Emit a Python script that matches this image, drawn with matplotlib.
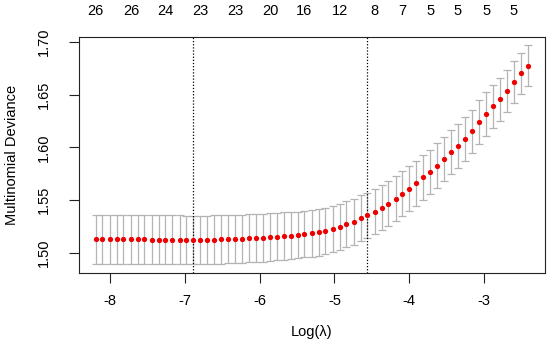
import numpy as np
import matplotlib
matplotlib.use('Agg')
import matplotlib.pyplot as plt

plt.rcParams['font.family'] = ['Liberation Sans', 'DejaVu Sans']

# log(lambda) grid of the cv fit
log_lambda = [-8.19, -8.10, -8.00, -7.91, -7.82, -7.72, -7.63, -7.54, -7.44, -7.35,
              -7.26, -7.17, -7.07, -6.98, -6.89, -6.79, -6.70, -6.61, -6.51, -6.42,
              -6.33, -6.23, -6.14, -6.05, -5.95, -5.86, -5.77, -5.68, -5.58, -5.49,
              -5.40, -5.30, -5.21, -5.12, -5.02, -4.93, -4.84, -4.74, -4.65, -4.56,
              -4.46, -4.37, -4.28, -4.18, -4.09, -4.00, -3.91, -3.81, -3.72, -3.63,
              -3.53, -3.44, -3.35, -3.25, -3.16, -3.07, -2.97, -2.88, -2.79, -2.69,
              -2.60, -2.51, -2.41]

# mean cv deviance
cvm = [1.5131, 1.5131, 1.5130, 1.5130, 1.5129, 1.5129, 1.5128, 1.5128, 1.5127, 1.5126,
       1.5126, 1.5125, 1.5125, 1.5124, 1.5123, 1.5124, 1.5125, 1.5126, 1.5128, 1.5130,
       1.5133, 1.5136, 1.5139, 1.5142, 1.5145, 1.5151, 1.5155, 1.5161, 1.5164, 1.5170,
       1.5180, 1.5186, 1.5195, 1.5208, 1.5224, 1.5243, 1.5271, 1.5297, 1.5329, 1.5357,
       1.5391, 1.5429, 1.5467, 1.5514, 1.5562, 1.5609, 1.5660, 1.5717, 1.5767, 1.5827,
       1.5893, 1.5954, 1.6013, 1.6077, 1.6152, 1.6241, 1.6316, 1.6389, 1.6455, 1.6534,
       1.6619, 1.6702, 1.6774]

# standard error
cvsd = [0.0231, 0.0231, 0.0231, 0.0231, 0.0231, 0.0231, 0.0231, 0.0231, 0.0231, 0.0231,
        0.0231, 0.0231, 0.0231, 0.0231, 0.0231, 0.0231, 0.0230, 0.0230, 0.0229, 0.0229,
        0.0228, 0.0228, 0.0227, 0.0227, 0.0226, 0.0226, 0.0225, 0.0224, 0.0223, 0.0222,
        0.0221, 0.0221, 0.0220, 0.0219, 0.0219, 0.0218, 0.0218, 0.0217, 0.0217, 0.0216,
        0.0215, 0.0215, 0.0214, 0.0214, 0.0213, 0.0213, 0.0212, 0.0212, 0.0211, 0.0211,
        0.0210, 0.0210, 0.0210, 0.0208, 0.0207, 0.0206, 0.0205, 0.0203, 0.0202, 0.0200,
        0.0199, 0.0197, 0.0196]

# number of nonzero coefs shown on top
nz_idx = [0, 5, 10, 15, 20, 25, 30, 35, 40, 44, 48, 52, 56, 60]
nz_labels = ['26', '26', '24', '23', '23', '20', '16', '12', '8', '7', '5', '5', '5', '5']

idx_min = 14
idx_1se = 39

x = np.array(log_lambda)
y = np.array(cvm)
se = np.array(cvsd)

fig = plt.figure(figsize=(5.5, 3.43), dpi=100)
ax = fig.add_axes([79/550, 1-272.7/343, (545-79)/550, (272.7-37)/343])

ax.errorbar(x, y, yerr=se, fmt='none', ecolor='#b4b4b4',
            elinewidth=0.9, capsize=3.2, capthick=0.9)
ax.plot(x, y, 'o', color='#ee0000', ms=3.8, mec='none', zorder=3)

ax.axvline(x[idx_min], color='black', ls=(0, (1, 1.5)), lw=0.9)
ax.axvline(x[idx_1se], color='black', ls=(0, (1, 1.5)), lw=0.9)

ax.set_xlim(-8.414, -2.185)
ax.set_ylim(1.4813, 1.7047)
ax.set_xticks([-8, -7, -6, -5, -4, -3])
ax.set_xticklabels(['-8', '-7', '-6', '-5', '-4', '-3'])
yt = [1.50, 1.55, 1.60, 1.65, 1.70]
ax.set_yticks(yt)
ax.set_yticklabels(['%.2f' % v for v in yt], rotation=90, va='center')

for s in ax.spines.values():
    s.set_linewidth(0.8)
    s.set_color('#222222')
ax.tick_params(direction='out', length=7, width=0.8, color='#222222',
               labelsize=10.5, pad=8)
ax.tick_params(axis='y', pad=13)

sec = ax.secondary_xaxis('top')
sec.set_xticks(x[nz_idx])
sec.set_xticklabels(nz_labels)
sec.tick_params(length=0, labelsize=10.5, pad=14)
sec.spines['top'].set_visible(False)

fig.text(12/550, 1-155/343, 'Multinomial Deviance', rotation=90,
         ha='center', va='center', fontsize=10.5)
fig.text(312/550, 1-332/343, 'Log(λ)', ha='center', va='center', fontsize=10.5)

fig.savefig('out.png', dpi=100)
